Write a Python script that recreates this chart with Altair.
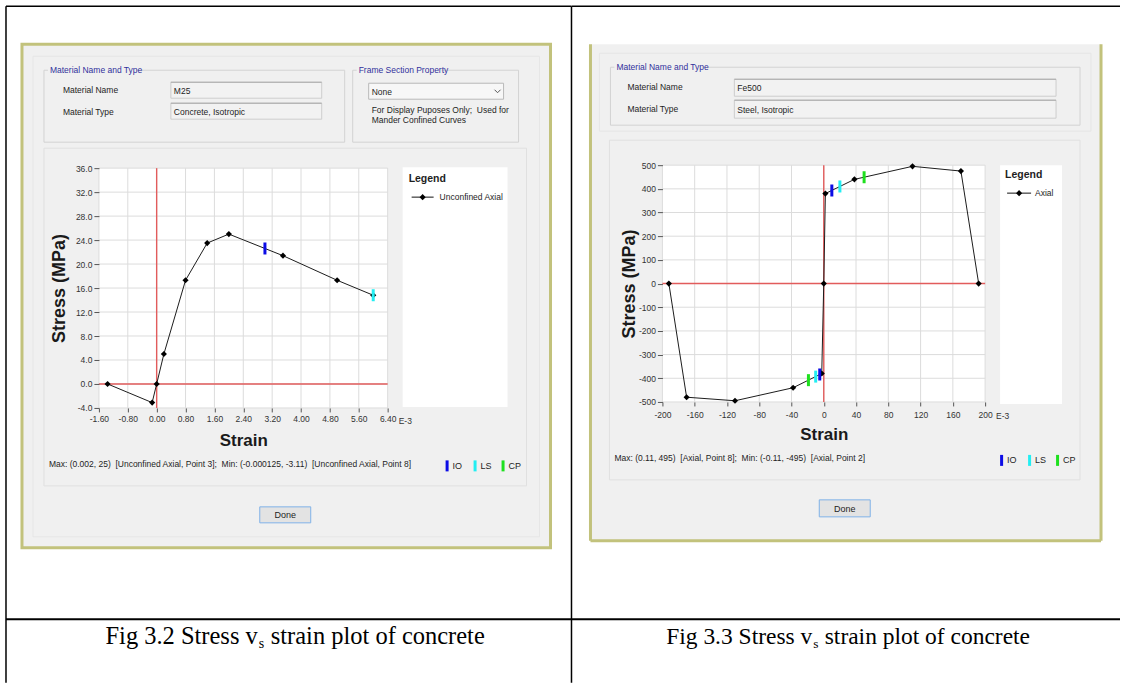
import altair as alt
import pandas as pd

# ---- M25 concrete, unconfined axial curve (strain in E-3, stress in MPa)
conc_strain = [-1.36, -0.125, 0.0, 0.2, 0.8, 1.4, 2.0, 3.5, 5.0, 6.0]
conc_stress = [0.0, -3.11, 0.0, 5.0, 17.3, 23.5, 25.0, 21.4, 17.3, 14.8]
conc_state = ["IO", "LS"]
conc_state_strain = [3.0, 6.0]
conc_state_stress = [22.6, 14.8]
conc_x_ticks = [-1.6, -0.8, 0.0, 0.8, 1.6, 2.4, 3.2, 4.0, 4.8, 5.6, 6.4]
conc_y_ticks = [-4.0, 0.0, 4.0, 8.0, 12.0, 16.0, 20.0, 24.0, 28.0, 32.0, 36.0]

# ---- Fe500 steel, axial curve (strain in E-3, stress in MPa)
steel_strain = [-192, -170, -110, -38, -2.5, 0, 2, 38, 110, 170, 192]
steel_stress = [0, -480, -495, -440, -380, 0, 380, 440, 495, 475, 0]
steel_state = ["IO", "LS", "CP", "IO", "LS", "CP"]
steel_state_strain = [10, 20, 50, -5, -10, -19]
steel_state_stress = [393, 410, 449, -384, -393, -408]
steel_x_ticks = [-200, -160, -120, -80, -40, 0, 40, 80, 120, 160, 200]
steel_y_ticks = [-500, -400, -300, -200, -100, 0, 100, 200, 300, 400, 500]

# performance levels
states = ["IO", "LS", "CP"]
state_colors = ["#0c0ce6", "#22eef2", "#1ee01e"]

# ---- styling
UI = "Liberation Sans"
SANS = "Liberation Sans"
SERIF = "Liberation Serif"
UI_SIZE = 8.5
DLG = "#f0f0f0"
OLIVE = "#c2c27c"
EDGE = "#e0e0e0"
GROUP = "#d3d3d3"
BLUE_TXT = "#30309c"
TXT = "#1e1e1e"
GRID = "#dcdcdc"
RED = "#e25c5c"

ONE = pd.DataFrame({"k": [0]})


def rect(o, x0, y0, x1, y1, fill=DLG, stroke=None, sw=1, fill_opacity=1):
    kw = dict(fill=fill, fillOpacity=fill_opacity)
    if stroke:
        kw.update(stroke=stroke, strokeWidth=sw)
    return alt.Chart(ONE).mark_rect(**kw).encode(
        x=alt.value(x0 - o[0]), x2=alt.value(x1 - o[0]),
        y=alt.value(y0 - o[1]), y2=alt.value(y1 - o[1]))


def seg(o, x0, y0, x1, y1, color="#000000", sw=1):
    return alt.Chart(ONE).mark_rule(color=color, strokeWidth=sw).encode(
        x=alt.value(x0 - o[0]), x2=alt.value(x1 - o[0]),
        y=alt.value(y0 - o[1]), y2=alt.value(y1 - o[1]))


def txt(o, x, y, s, size=UI_SIZE, font=UI, weight="normal", color=TXT,
        align="left", baseline="middle", angle=0):
    return alt.Chart(ONE).mark_text(
        text=s, font=font, fontSize=size, fontWeight=weight, color=color,
        align=align, baseline=baseline, angle=angle).encode(
        x=alt.value(x - o[0]), y=alt.value(y - o[1]))


def diamond(o, x, y):
    return alt.Chart(ONE).mark_point(
        shape="diamond", filled=True, size=38, color="#000000", opacity=1).encode(
        x=alt.value(x - o[0]), y=alt.value(y - o[1]))


def group_box(o, x0, y0, x1, y1, title, title_w):
    return [
        rect(o, x0, y0, x1, y1, fill=DLG, stroke=GROUP, fill_opacity=0),
        rect(o, x0 + 4, y0 - 6, x0 + 7 + title_w, y0 + 6, fill=DLG),
        txt(o, x0 + 6, y0, title, color=BLUE_TXT),
    ]


def field(o, x0, y0, x1, y1, s):
    return [
        rect(o, x0, y0, x1, y1, fill="#f2f2f2", stroke="#cdcdcd"),
        seg(o, x0, y0, x1, y0, color="#a9a9a9"),
        txt(o, x0 + 3, (y0 + y1) / 2 + 0.5, s),
    ]


def state_key(o, x, y):
    out = []
    for i, (name, col) in enumerate(zip(states, state_colors)):
        bx = x + i * 28
        out.append(rect(o, bx, y - 5, bx + 3, y + 6, fill=col))
        out.append(txt(o, bx + 7, y + 0.5, name, size=9))
    return out


def done_button(o, x0, y0, x1, y1):
    return [
        rect(o, x0, y0, x1, y1, fill="#e3e3e3", stroke="#7fb2e8"),
        txt(o, (x0 + x1) / 2, (y0 + y1) / 2 + 0.5, "Done", size=9, align="center"),
    ]


def hyphen_labels(fmt):
    # plain hyphen for negative tick labels
    return f"replace(format(datum.value, '{fmt}'), '\u2212', '-')"


def plot_layers(strain, stress, st, st_x, st_y, xdom, ydom, xticks, yticks,
                xfmt, yfmt, w, yrange, ytitle_pad, xlabel_pad, xtitle_pad):
    xs = alt.Scale(domain=xdom, nice=False, zero=False)
    ys = alt.Scale(domain=ydom, nice=False, zero=False, range=yrange)
    xa = alt.Axis(values=xticks, labelExpr=hyphen_labels(xfmt), grid=False,
                  domain=False, tickSize=4, tickColor="#555555", labelFont=SANS,
                  labelFontSize=8.5, labelColor="#333333", labelPadding=xlabel_pad,
                  labelOverlap=False, labelFlush=False,
                  title="Strain", titleFont=SANS, titleFontSize=17,
                  titleFontWeight="bold", titleColor="#1a1a1a",
                  titlePadding=xtitle_pad, zindex=1)
    ya = alt.Axis(values=yticks, labelExpr=hyphen_labels(yfmt), grid=False,
                  domain=False, tickSize=5, tickColor="#555555", labelFont=SANS,
                  labelFontSize=8.5, labelColor="#333333", labelPadding=2,
                  labelOverlap=False, labelFlush=False,
                  title="Stress (MPa)", titleFont=SANS, titleFontSize=18,
                  titleFontWeight="bold", titleColor="#1a1a1a",
                  titlePadding=ytitle_pad, zindex=1)
    top, bottom = yrange[1], yrange[0]

    def X(f):
        return alt.X(f, type="quantitative", scale=xs, axis=xa)

    def Y(f):
        return alt.Y(f, type="quantitative", scale=ys, axis=ya)

    grid_x = alt.Chart(pd.DataFrame({"gx": xticks})).mark_rule(
        color=GRID, strokeWidth=1).encode(
        x=X("gx"), y=alt.value(top), y2=alt.value(bottom))
    grid_y = alt.Chart(pd.DataFrame({"gy": yticks})).mark_rule(
        color=GRID, strokeWidth=1).encode(
        y=Y("gy"), x=alt.value(0), x2=alt.value(w))
    zero = pd.DataFrame({"z": [0]})
    zero_v = alt.Chart(zero).mark_rule(color=RED, strokeWidth=1.4).encode(
        x=X("z"), y=alt.value(top), y2=alt.value(bottom))
    zero_h = alt.Chart(zero).mark_rule(color=RED, strokeWidth=1.4).encode(
        y=Y("z"), x=alt.value(0), x2=alt.value(w))
    curve = pd.DataFrame({"strain": strain, "stress": stress,
                          "idx": list(range(len(strain)))})
    line = alt.Chart(curve).mark_line(color="#1c1c1c", strokeWidth=1).encode(
        x=X("strain"), y=Y("stress"), order="idx:Q")
    pts = alt.Chart(curve).mark_point(
        shape="diamond", filled=True, size=38, color="#000000", opacity=1).encode(
        x=X("strain"), y=Y("stress"))
    levels = pd.DataFrame({"state": st, "strain": st_x, "stress": st_y})
    ticks = alt.Chart(levels).mark_tick(
        orient="vertical", size=12, thickness=3, opacity=1).encode(
        x=X("strain"), y=Y("stress"),
        color=alt.Color("state:N", scale=alt.Scale(domain=states, range=state_colors),
                        legend=None))
    return [grid_x, grid_y, zero_v, zero_h, line, pts, ticks]


def caption(o, x, y, fig, size):
    k = size / 24.5
    return [
        txt(o, x, y, f"Fig {fig} Stress v", size=size, font=SERIF,
            color="#000000", align="right", baseline="alphabetic"),
        txt(o, x + 1, y + 4, "s", size=14 * k, font=SERIF, color="#000000",
            baseline="alphabetic"),
        txt(o, x + 13 * k, y, "strain plot of concrete", size=size, font=SERIF,
            color="#000000", baseline="alphabetic"),
    ]


# ================= left: concrete =================
L = (99, 165)
LW, LH = 289, 243
left_decor = [
    rect(L, 0, 0, 572, 683, fill="#ffffff"),
    seg(L, 6, 6, 572, 6, sw=1.5),
    seg(L, 6, 6, 6, 683, sw=1.5),
    seg(L, 6, 619.5, 572, 619.5, sw=2),
    rect(L, 22, 44, 551, 548, fill=DLG, stroke=OLIVE, sw=3),
    rect(L, 33, 56, 540, 537, fill=DLG, stroke="#e6e6e6"),
    *group_box(L, 44, 70, 345, 142, "Material Name and Type", 86),
    *group_box(L, 353, 70, 519, 142, "Frame Section Property", 82),
    txt(L, 63, 90, "Material Name"),
    txt(L, 63, 112, "Material Type"),
    *field(L, 171, 82, 322, 98, "M25"),
    *field(L, 171, 103, 322, 119, "Concrete, Isotropic"),
    rect(L, 369, 83, 504, 99, fill="#f7f7f7", stroke="#b9b9b9"),
    txt(L, 372, 91.5, "None"),
    seg(L, 495, 89.5, 498, 92.5, color="#555555"),
    seg(L, 498, 92.5, 501, 89.5, color="#555555"),
    txt(L, 372, 110, "For Display Puposes Only;\u00a0\u00a0Used for"),
    txt(L, 372, 120, "Mander Confined Curves"),
    rect(L, 44, 148, 527, 486, fill=DLG, stroke=EDGE),
    rect(L, 99, 168, 388, 408, fill="#ffffff"),
    rect(L, 403, 167, 508, 407, fill="#ffffff"),
    txt(L, 409, 179, "Legend", size=10.5, font=SANS, weight="bold"),
    seg(L, 412, 197, 434, 197, color="#111111"),
    diamond(L, 423, 197),
    txt(L, 440, 197, "Unconfined Axial"),
    txt(L, 399, 421, "E-3", size=8.5, font=SANS, color="#333333"),
    txt(L, 49, 464,
        "Max: (0.002, 25)\u00a0\u00a0[Unconfined Axial, Point 3];\u00a0\u00a0"
        "Min: (-0.000125, -3.11)\u00a0\u00a0[Unconfined Axial, Point 8]"),
    *state_key(L, 446, 465.5),
    *done_button(L, 260, 507, 311, 523),
    *caption(L, 258, 644, "3.2", 24.5),
]
left = alt.layer(
    *left_decor,
    *plot_layers(conc_strain, conc_stress, conc_state, conc_state_strain,
                 conc_state_stress, [-1.6, 6.4], [-4, 36], conc_x_ticks,
                 conc_y_ticks, ".2f", ".1f", LW, [LH, 3], 7, 3, 9),
).properties(width=LW, height=LH)

# ================= right: steel =================
R = (663, 165)
RW, RH = 323, 237
right_decor = [
    rect(R, 572, 0, 1121, 683, fill="#ffffff"),
    seg(R, 572, 6, 1121, 6, sw=1.5),
    seg(R, 572, 6, 572, 683, sw=1.5),
    seg(R, 572, 619.5, 1121, 619.5, sw=2),
    rect(R, 591, 44, 1102, 541, fill=DLG),
    seg(R, 591, 44, 591, 541, color=OLIVE, sw=3),
    seg(R, 1102, 44, 1102, 541, color=OLIVE, sw=3),
    seg(R, 591, 541, 1102, 541, color=OLIVE, sw=3),
    rect(R, 600, 53, 1092, 131, fill=DLG, stroke="#e6e6e6"),
    *group_box(R, 611, 67, 1081, 125, "Material Name and Type", 86),
    txt(R, 628, 87, "Material Name"),
    txt(R, 628, 109, "Material Type"),
    *field(R, 735, 79, 1057, 96, "Fe500"),
    *field(R, 735, 100, 1057, 118, "Steel, Isotropic"),
    rect(R, 610, 140, 1081, 480, fill=DLG, stroke=EDGE),
    rect(R, 663, 165, 986, 402, fill="#ffffff"),
    rect(R, 1001, 165, 1063, 404, fill="#ffffff"),
    txt(R, 1006, 175, "Legend", size=10.5, font=SANS, weight="bold"),
    seg(R, 1008, 193, 1032, 193, color="#111111"),
    diamond(R, 1020, 193),
    txt(R, 1036, 193, "Axial"),
    txt(R, 997, 416, "E-3", size=8.5, font=SANS, color="#333333"),
    txt(R, 615, 458,
        "Max: (0.11, 495)\u00a0\u00a0[Axial, Point 8];\u00a0\u00a0"
        "Min: (-0.11, -495)\u00a0\u00a0[Axial, Point 2]"),
    *state_key(R, 1001, 460),
    *done_button(R, 820, 500, 871, 517),
    *caption(R, 813, 644, "3.3", 23.5),
]
right = alt.layer(
    *right_decor,
    *plot_layers(steel_strain, steel_stress, steel_state, steel_state_strain,
                 steel_state_stress, [-200, 200], [-500, 500], steel_x_ticks,
                 steel_y_ticks, "d", "d", RW, [RH, 0], 0, 5, 7),
).properties(width=RW, height=RH)

chart = alt.hconcat(
    left, right, spacing=275, bounds="flush", padding=0, background="#ffffff"
).configure_view(strokeWidth=0)

chart.save("out.html", embed_options={"renderer": "svg", "actions": False})
